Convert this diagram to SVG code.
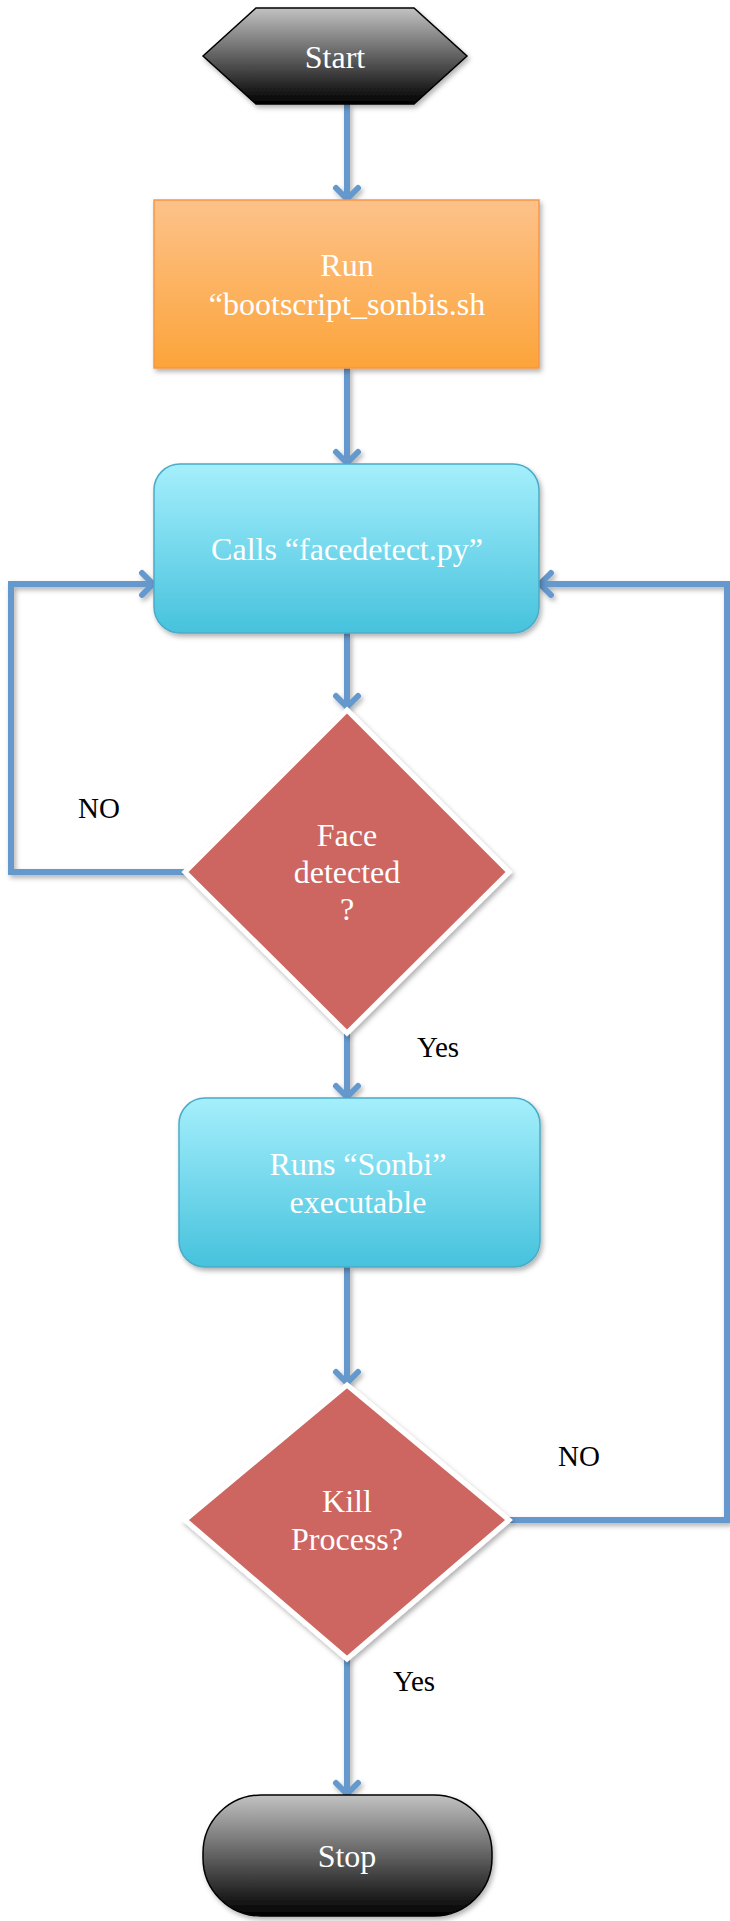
<svg xmlns="http://www.w3.org/2000/svg" width="730" height="1921" viewBox="0 0 730 1921">
<style>
.nt{font-family:"Liberation Serif","Times New Roman",serif;font-size:32px;fill:#ffffff;text-anchor:middle}
.lb{font-family:"Liberation Serif","Times New Roman",serif;font-size:29px;fill:#000000;text-anchor:middle}
.cn{fill:none;stroke:#6598cc;stroke-width:6;stroke-linejoin:miter}
.dk{stroke:#000;stroke-width:1.5}
.cy{fill:url(#gCyan);stroke:#4bacc6;stroke-width:1.5}
.dm{fill:#cd6660;stroke:#ffffff;stroke-width:5}
</style>
<defs>
<linearGradient id="gDark" x1="0" y1="0" x2="0" y2="1"><stop offset="0" stop-color="#c2c2c2"/><stop offset="1" stop-color="#000000"/></linearGradient>
<linearGradient id="gOrange" x1="0" y1="0" x2="0" y2="1"><stop offset="0" stop-color="#fdc28a"/><stop offset="1" stop-color="#fca43a"/></linearGradient>
<linearGradient id="gCyan" x1="0" y1="0" x2="0" y2="1"><stop offset="0" stop-color="#a5effc"/><stop offset="1" stop-color="#46c2dd"/></linearGradient>
<filter id="sh" x="-10%" y="-10%" width="125%" height="125%"><feDropShadow dx="2" dy="3" stdDeviation="2.5" flood-color="#000" flood-opacity="0.3"/></filter>
<marker id="arr" markerUnits="userSpaceOnUse" markerWidth="30" markerHeight="30" viewBox="-15 -15 30 30" refX="0" refY="0" orient="auto">
<path d="M-11,-11 L0,0 L-11,11" fill="none" stroke="#6598cc" stroke-width="6" stroke-linecap="round" stroke-linejoin="round"/>
</marker>
</defs>
<g id="connectors" filter="url(#sh)">
<path class="cn" d="M347,104 L347,199" marker-end="url(#arr)"/>
<path class="cn" d="M347,368 L347,463" marker-end="url(#arr)"/>
<path class="cn" d="M347,633 L347,707" marker-end="url(#arr)"/>
<path class="cn" d="M185,872 L11,872 L11,584 L153,584" marker-end="url(#arr)"/>
<path class="cn" d="M347,1033 L347,1097" marker-end="url(#arr)"/>
<path class="cn" d="M347,1267 L347,1383" marker-end="url(#arr)"/>
<path class="cn" d="M509,1520 L727,1520 L727,584 L540,584" marker-end="url(#arr)"/>
<path class="cn" d="M347,1659 L347,1794" marker-end="url(#arr)"/>
</g>
<g id="start">
<polygon points="203,56 256,8 414,8 467,56 414,104 256,104" fill="url(#gDark)" class="dk" filter="url(#sh)"/>
<text class="nt" x="335" y="68">Start</text>
</g>
<g id="run">
<rect x="154" y="200" width="385" height="168" fill="url(#gOrange)" stroke="#f79646" stroke-width="1.5" filter="url(#sh)"/>
<text class="nt" x="347" y="276">Run</text>
<text class="nt" x="347" y="315">“bootscript_sonbis.sh</text>
</g>
<g id="calls">
<rect x="154" y="464" width="385" height="169" rx="26" ry="26" class="cy" filter="url(#sh)"/>
<text class="nt" x="347" y="560">Calls “facedetect.py”</text>
</g>
<g id="face">
<polygon points="347,710 509,872 347,1033 185,872" class="dm" filter="url(#sh)"/>
<text class="nt" x="347" y="846">Face</text>
<text class="nt" x="347" y="883">detected</text>
<text class="nt" x="347" y="920">?</text>
</g>
<g id="runs">
<rect x="179" y="1098" width="361" height="169" rx="26" ry="26" class="cy" filter="url(#sh)"/>
<text class="nt" x="358" y="1175">Runs “Sonbi”</text>
<text class="nt" x="358" y="1213">executable</text>
</g>
<g id="kill">
<polygon points="347,1385 509,1520 347,1659 185,1520" class="dm" filter="url(#sh)"/>
<text class="nt" x="347" y="1512">Kill</text>
<text class="nt" x="347" y="1550">Process?</text>
</g>
<g id="stop">
<rect x="203" y="1795" width="289" height="121" rx="58" ry="58" fill="url(#gDark)" class="dk" filter="url(#sh)"/>
<text class="nt" x="347" y="1867">Stop</text>
</g>
<g id="labels">
<text class="lb" x="99" y="818">NO</text>
<text class="lb" x="438" y="1057">Yes</text>
<text class="lb" x="579" y="1466">NO</text>
<text class="lb" x="414" y="1691">Yes</text>
</g>
</svg>
